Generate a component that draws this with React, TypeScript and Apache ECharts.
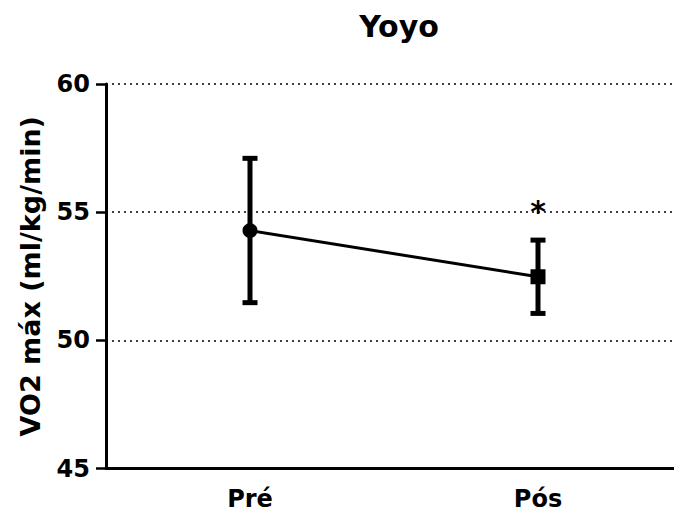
import React, { useEffect, useRef } from "react";
import * as echarts from "echarts";

const title = "Yoyo";
const categories = ["Pré", "Pós"];
const means = [54.28, 52.48];
const errLow = [51.47, 51.05];
const errHigh = [57.1, 53.91];
const symbols = ["circle", "rect"];
const significance = ["", "*"];
const yMin = 45;
const yMax = 60;
const yInterval = 5;
const yName = "VO2 máx (ml/kg/min)";

const FONT = "'DejaVu Sans', sans-serif";

export default function App() {
  const ref = useRef<HTMLDivElement>(null);
  useEffect(() => {
    document.body.style.margin = "0";
    const chart = echarts.init(ref.current!, null, { renderer: "svg" });
    const errData = categories.map((_, i) => [i, errLow[i], errHigh[i]]);
    chart.setOption({
      animation: false,
      backgroundColor: "#ffffff",
      title: {
        text: title,
        left: 394,
        textAlign: "center",
        top: 6,
        textStyle: { fontFamily: FONT, fontWeight: "bold", fontSize: 30, color: "#000" },
      },
      grid: { left: 106, right: 8, top: 84, bottom: 47.5, containLabel: false },
      xAxis: {
        type: "category",
        data: categories,
        boundaryGap: true,
        axisLine: { lineStyle: { color: "#000", width: 3 } },
        axisTick: { alignWithLabel: true, length: 10, lineStyle: { color: "#000", width: 2.5 } },
        axisLabel: { fontFamily: FONT, fontWeight: "bold", fontSize: 24, color: "#000", margin: 18 },
        splitLine: { show: false },
      },
      yAxis: {
        type: "value",
        min: yMin,
        max: yMax,
        interval: yInterval,
        name: yName,
        nameLocation: "middle",
        nameGap: 62,
        nameTextStyle: { fontFamily: FONT, fontWeight: "bold", fontSize: 27, color: "#000" },
        axisLine: { show: true, lineStyle: { color: "#000", width: 3 } },
        axisTick: { show: true, length: 10, lineStyle: { color: "#000", width: 2.5 } },
        axisLabel: { fontFamily: FONT, fontWeight: "bold", fontSize: 24, color: "#000", margin: 16 },
        splitLine: { show: true, lineStyle: { color: "#000", width: 1.5, type: [2, 4] } },
      },
      series: [
        {
          type: "custom",
          data: errData,
          z: 3,
          renderItem: (params: any, api: any) => {
            const x = api.value(0);
            const lo = api.coord([x, api.value(1)]);
            const hi = api.coord([x, api.value(2)]);
            const hw = 7.5;
            const style = { stroke: "#000", lineWidth: 5 };
            const sig = significance[params.dataIndex];
            const children: any[] = [
              { type: "line", shape: { x1: lo[0], y1: lo[1], x2: hi[0], y2: hi[1] }, style },
              { type: "line", shape: { x1: lo[0] - hw, y1: lo[1], x2: lo[0] + hw, y2: lo[1] }, style },
              { type: "line", shape: { x1: hi[0] - hw, y1: hi[1], x2: hi[0] + hw, y2: hi[1] }, style },
            ];
            if (sig) {
              children.push({
                type: "text",
                style: {
                  text: sig,
                  x: hi[0],
                  y: hi[1] - 29,
                  align: "center",
                  verticalAlign: "middle",
                  fontFamily: FONT,
                  fontWeight: "bold",
                  fontSize: 30,
                  fill: "#000",
                },
              });
            }
            return { type: "group", children };
          },
        },
        {
          type: "line",
          z: 4,
          data: means.map((v, i) => ({ value: v, symbol: symbols[i] })),
          symbolSize: 15,
          lineStyle: { color: "#000", width: 3 },
          itemStyle: { color: "#000" },
        },
      ],
    });
    return () => chart.dispose();
  }, []);
  return (
    <div style={{ width: 674, height: 516, overflow: "hidden" }}>
      <div ref={ref} style={{ width: 690, height: 516 }} />
    </div>
  );
}
